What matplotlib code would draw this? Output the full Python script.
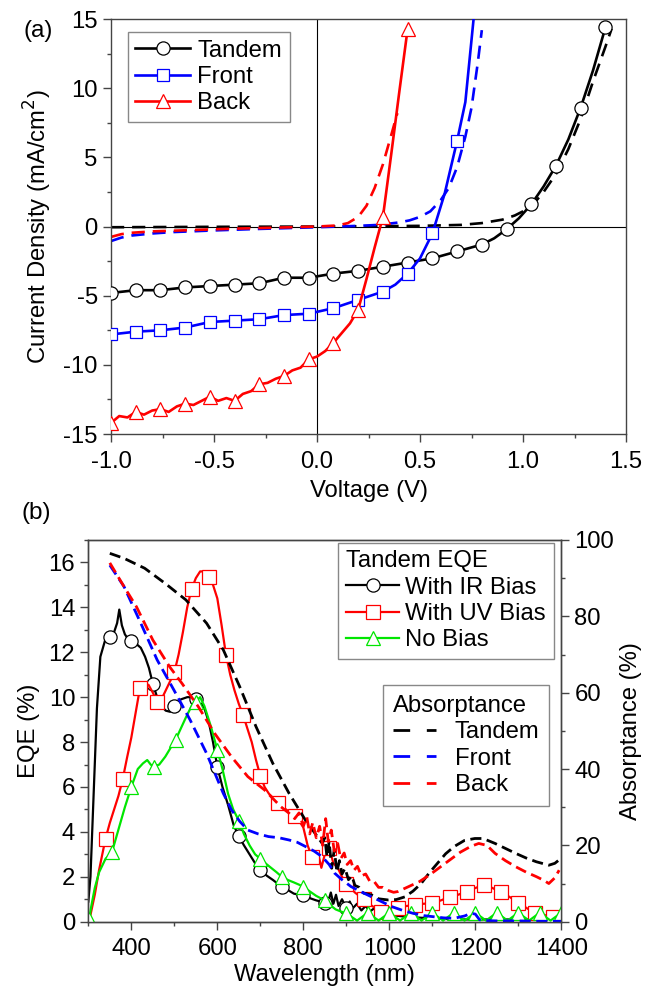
import numpy as np
import matplotlib
matplotlib.use("Agg")
import matplotlib.pyplot as plt
from matplotlib.lines import Line2D
from matplotlib.ticker import MultipleLocator

plt.rcParams["font.family"] = ["Liberation Sans", "DejaVu Sans"]
plt.rcParams["axes.unicode_minus"] = False
FS = 17.2

BLK, BLU, RED, GRN = "#000000", "#0000ff", "#ff0000", "#00e600"
SPINE = "#444444"

# ---- (a) J-V curves: solid = illuminated, dashed = dark ----
tandem_v = [-1.00, -0.94, -0.88, -0.82, -0.76, -0.70, -0.64, -0.58, -0.52, -0.46, -0.40,
            -0.34, -0.28, -0.22, -0.16, -0.10, -0.04, 0.02, 0.08, 0.14, 0.20, 0.26, 0.32,
            0.38, 0.44, 0.50, 0.56, 0.62, 0.68, 0.74, 0.80, 0.86, 0.92, 0.98, 1.04, 1.10,
            1.16, 1.22, 1.28, 1.34, 1.40]
tandem_j = [-4.8, -4.7, -4.6, -4.6, -4.6, -4.5, -4.4, -4.35, -4.3, -4.25, -4.2,
            -4.15, -4.1, -3.9, -3.7, -3.7, -3.7, -3.55, -3.4, -3.3, -3.2, -3.05, -2.9,
            -2.75, -2.6, -2.45, -2.3, -2.05, -1.8, -1.55, -1.3, -0.85, -0.2, 0.6, 1.6, 2.9,
            4.4, 6.3, 8.6, 11.3, 14.4]

front_v = [-1.00, -0.94, -0.88, -0.82, -0.76, -0.70, -0.64, -0.58, -0.52, -0.46, -0.40,
           -0.34, -0.28, -0.22, -0.16, -0.10, -0.04, 0.02, 0.08, 0.14, 0.20, 0.26, 0.32,
           0.38, 0.44, 0.50, 0.56, 0.62, 0.68, 0.72, 0.76]
front_j = [-7.8, -7.7, -7.6, -7.55, -7.5, -7.4, -7.3, -7.1, -6.9, -6.85, -6.8,
           -6.75, -6.7, -6.55, -6.4, -6.35, -6.3, -6.1, -5.9, -5.6, -5.3, -5.0, -4.7,
           -4.2, -3.4, -2.3, -0.5, 2.4, 6.2, 9.0, 15.0]

back_v = [-1.00, -0.96, -0.92, -0.88, -0.84, -0.80, -0.76, -0.72, -0.68, -0.64, -0.60,
          -0.56, -0.52, -0.48, -0.44, -0.40, -0.36, -0.32, -0.28, -0.24, -0.20, -0.16,
          -0.12, -0.08, -0.04, 0.00, 0.04, 0.08, 0.12, 0.16, 0.20, 0.24, 0.28, 0.32,
          0.36, 0.40, 0.44]
back_j = [-14.2, -13.7, -13.8, -13.4, -13.6, -13.3, -13.2, -13.4, -13.0, -12.8, -12.9,
          -12.6, -12.3, -12.6, -12.4, -12.6, -12.1, -11.9, -11.4, -11.3, -11.0, -10.8,
          -10.4, -10.2, -9.6, -9.4, -9.0, -8.4, -7.7, -7.0, -6.0, -3.8, -1.5, 0.7,
          5.2, 9.8, 14.3]

tandem_dark_v = [-1.0, -0.5, 0.0, 0.5, 0.7, 0.8, 0.9, 0.96, 1.0, 1.04, 1.10, 1.16,
                 1.22, 1.28, 1.34, 1.40, 1.43]
tandem_dark_j = [-0.05, -0.02, 0.0, 0.05, 0.12, 0.25, 0.5, 0.8, 1.1, 1.45, 2.5, 3.8,
                 5.6, 7.8, 10.5, 13.0, 14.3]
front_dark_v = [-1.0, -0.95, -0.9, -0.8, -0.7, -0.5, -0.3, 0.0, 0.2, 0.3, 0.4, 0.45,
                0.5, 0.55, 0.6, 0.64, 0.68, 0.72, 0.75, 0.78, 0.80]
front_dark_j = [-1.05, -0.8, -0.65, -0.5, -0.4, -0.28, -0.18, -0.05, 0.05, 0.12, 0.3,
                0.45, 0.7, 1.1, 1.9, 2.8, 4.3, 6.5, 8.6, 11.8, 14.2]
back_dark_v = [-1.0, -0.95, -0.9, -0.8, -0.6, -0.4, -0.2, 0.0, 0.1, 0.15, 0.2, 0.24,
               0.28, 0.32, 0.36, 0.39]
back_dark_j = [-0.75, -0.55, -0.45, -0.35, -0.25, -0.15, -0.08, 0.0, 0.08, 0.25, 0.7,
               1.5, 2.8, 4.5, 6.6, 8.2]

# ---- (b) EQE (left axis, %) ----
ir_wl = [300, 305, 312, 320, 328, 340, 350, 360, 367, 372, 378, 385, 392, 400, 410, 422,
         432, 441, 450, 460, 470, 480, 490, 500, 515, 530, 540, 550, 560, 570, 580, 590,
         600, 612, 625, 638, 650, 662, 675, 688, 700, 715, 730, 740, 750, 765, 778, 790,
         800, 815, 830, 840, 850, 858, 864, 870, 876, 882, 890, 900, 908, 915, 925, 935,
         945, 955, 965, 975, 990, 1000, 1050, 1100, 1150, 1200, 1250, 1300, 1350, 1400]
ir_eqe = [0.9, 2.0, 5.5, 9.5, 11.8, 12.6, 12.7, 12.9, 13.3, 13.9, 13.2, 12.8, 12.6, 12.5,
          12.4, 12.2, 11.8, 11.3, 10.6, 10.0, 9.6, 9.4, 9.35, 9.6, 9.9, 10.0, 10.0, 9.9,
          9.85, 9.5, 8.9, 8.0, 6.9, 6.0, 5.2, 4.3, 3.8, 3.4, 3.0, 2.6, 2.3, 2.05, 1.85,
          1.7, 1.56, 1.4, 1.25, 1.2, 1.19, 1.05, 0.95, 0.9, 0.85, 0.9, 1.3, 0.8, 1.2, 0.7,
          1.0, 0.6, 0.9, 0.6, 0.8, 0.5, 0.7, 0.45, 0.6, 0.4, 0.5, 0.3, 0.2, 0.15, 0.1,
          0.1, 0.1, 0.1, 0.1, 0.1]
ir_marks = [350, 400, 450, 500, 550, 600, 650, 700, 750, 800, 850, 900]

uv_wl = [305, 315, 325, 340, 350, 360, 370, 380, 390, 400, 410, 420, 430, 440, 450, 460,
         470, 480, 490, 500, 510, 520, 530, 540, 550, 560, 570, 580, 590, 600, 610, 620,
         630, 640, 650, 660, 670, 680, 690, 700, 710, 720, 730, 740, 750, 760, 770, 780,
         790, 800, 810, 820, 828, 835, 842, 850, 860, 870, 880, 890, 900, 920, 940, 960,
         980, 1000, 1020, 1040, 1060, 1080, 1100, 1120, 1140, 1160, 1180, 1200, 1220,
         1240, 1260, 1280, 1300, 1320, 1340, 1360, 1380, 1400]
uv_eqe = [0.3, 1.2, 2.3, 3.7, 4.4, 5.0, 5.6, 6.35, 7.3, 8.2, 9.3, 10.4, 10.6, 10.55, 10.2,
          9.8, 9.9, 10.3, 10.7, 11.1, 11.9, 12.9, 14.0, 14.8, 15.3, 15.6, 15.6, 15.35,
          15.0, 14.4, 13.2, 11.9, 11.0, 10.3, 9.7, 9.2, 8.6, 8.0, 7.2, 6.5, 6.0, 5.7, 5.5,
          5.3, 5.1, 5.0, 4.85, 4.7, 4.5, 4.2, 3.4, 2.9, 2.6, 3.0, 2.4, 3.0, 3.3, 2.6, 2.4,
          2.0, 1.7, 1.3, 1.0, 0.7, 0.45, 0.5, 0.6, 0.7, 0.75, 0.8, 0.82, 0.95, 1.1, 1.2,
          1.34, 1.5, 1.64, 1.5, 1.31, 1.1, 0.85, 0.6, 0.37, 0.3, 0.22, 0.2]
uv_marks = [340, 380, 420, 460, 500, 540, 580, 620, 660, 700, 740, 780, 820, 860, 900,
            940, 980, 1020, 1060, 1100, 1140, 1180, 1220, 1260, 1300, 1340, 1380]

nb_wl = [302, 306, 315, 325, 340, 355, 370, 385, 400, 415, 427, 437, 445, 452, 465, 479,
         490, 503, 515, 527, 540, 550, 560, 570, 585, 600, 612, 625, 637, 650, 662, 675,
         688, 700, 712, 725, 738, 750, 765, 778, 790, 800, 815, 830, 840, 850, 862, 875,
         888, 900, 925, 950, 975, 1000, 1025, 1050, 1075, 1100, 1125, 1150, 1175, 1200,
         1225, 1250, 1275, 1300, 1325, 1350, 1375, 1400]
nb_eqe = [0.1, 0.6, 1.5, 2.2, 2.8, 3.1, 4.1, 5.1, 6.0, 6.8, 7.05, 7.2, 7.0, 6.9, 7.0,
          7.35, 7.7, 8.1, 8.6, 9.1, 9.6, 9.8, 10.0, 9.6, 8.7, 7.65, 6.8, 5.7, 5.0, 4.5,
          3.9, 3.4, 3.0, 2.8, 2.6, 2.4, 2.2, 2.0, 1.85, 1.75, 1.65, 1.56, 1.35, 1.15,
          1.05, 0.95, 0.75, 0.55, 0.45, 0.37, 0.05, 0.4, 0.05, 0.4, 0.05, 0.4, 0.05, 0.4,
          0.05, 0.4, 0.05, 0.4, 0.05, 0.4, 0.05, 0.4, 0.05, 0.4, 0.05, 0.4]
nb_marks = [302, 355, 400, 452, 503, 550, 600, 650, 700, 750, 800, 850, 900, 950, 1000,
            1050, 1100, 1150, 1200, 1250, 1300, 1350, 1400]

# ---- (b) absorptance (right axis, %) ----
abs_tandem_wl = [350, 383, 431, 479, 527, 575, 614, 652, 690, 729, 767, 805, 825, 844,
                 850, 855, 860, 866, 872, 878, 884, 890, 897, 905, 913, 920, 930, 940,
                 959, 975, 997, 1016, 1036, 1055, 1074, 1093, 1112, 1131, 1151, 1175,
                 1199, 1218, 1246, 1270, 1294, 1318, 1342, 1371, 1385, 1395]
abs_tandem = [96.5, 95.2, 92.6, 88.6, 84.3, 78.2, 71.2, 61.6, 51.1, 41.5, 33.6, 26.6,
              23.5, 20.5, 22.0, 17.0, 21.0, 14.0, 19.0, 13.0, 16.0, 12.5, 14.0, 11.0,
              12.0, 9.5, 9.0, 7.5, 7.0, 6.0, 5.7, 5.8, 6.5, 8.0, 10.0, 12.8, 15.3, 17.8,
              19.7, 21.3, 21.8, 21.8, 20.5, 19.2, 17.9, 16.7, 15.7, 14.8, 15.3, 16.2]

abs_front_wl = [350, 383, 422, 460, 499, 537, 575, 614, 633, 652, 671, 695, 719, 743,
                767, 786, 805, 825, 844, 860, 873, 890, 911, 935, 959, 983, 1007, 1030,
                1055, 1080, 1103, 1127, 1151, 1175, 1190, 1200, 1210, 1218, 1250, 1300,
                1350, 1400]
abs_front = [93.4, 87.8, 78.2, 68.6, 60.7, 52.8, 44.1, 33.6, 29.3, 26.3, 24.0, 23.0,
             22.3, 22.0, 21.4, 20.8, 19.7, 18.5, 17.0, 15.0, 12.7, 11.0, 9.2, 7.8, 6.5,
             5.2, 3.9, 3.0, 2.2, 1.6, 1.3, 1.0, 0.9, 1.5, 2.2, 2.0, 0.5, 0.3, 0.2, 0.2,
             0.1, 0.1]

abs_back_wl = [350, 383, 412, 450, 489, 518, 556, 594, 633, 671, 710, 748, 767, 780, 790,
               800, 808, 815, 822, 830, 838, 845, 852, 858, 865, 872, 880, 887, 895, 902,
               910, 918, 926, 935, 945, 955, 965, 975, 985, 997, 1010, 1020, 1045, 1070,
               1093, 1117, 1141, 1165, 1189, 1208, 1227, 1246, 1270, 1294, 1318, 1342,
               1360, 1371, 1385, 1395]
abs_back = [94.0, 87.8, 82.5, 73.8, 66.8, 62.4, 56.3, 49.3, 43.2, 38.0, 34.5, 30.1, 28.4,
            27.0, 28.5, 25.0, 27.5, 23.0, 26.0, 22.0, 25.0, 20.0, 27.0, 21.0, 24.0, 18.5,
            20.5, 16.5, 18.0, 15.0, 16.0, 13.5, 14.5, 12.0, 12.5, 10.5, 10.5, 9.0, 9.0,
            8.2, 7.7, 7.9, 9.2, 10.5, 12.2, 14.2, 16.2, 18.2, 19.7, 20.5, 20.0, 17.9, 16.0,
            14.4, 13.0, 11.8, 10.8, 10.0, 11.5, 13.5]


def marks(xs, at):
    return [i for i, x in enumerate(xs) if x in at]


def style_axis(ax, fs=FS):
    for s in ax.spines.values():
        s.set_color(SPINE)
        s.set_linewidth(1.0)
    ax.tick_params(which="both", direction="out", width=1.0, color=SPINE, labelsize=fs)
    ax.tick_params(which="major", length=5.5)
    ax.tick_params(which="minor", length=3)


fig = plt.figure(figsize=(6.48, 9.93), dpi=100)

# ---------------- (a) ----------------
ax = fig.add_axes([0.1713, 0.5629, 0.7948, 0.4179])
ax.axhline(0, color="k", lw=0.8, zorder=1)
ax.axvline(0, color="k", lw=0.8, zorder=1)
dash_a = (5, 3)
ax.plot(tandem_dark_v, tandem_dark_j, color=BLK, lw=1.9, dashes=dash_a, zorder=2)
ax.plot(front_dark_v, front_dark_j, color=BLU, lw=1.9, dashes=dash_a, zorder=2)
ax.plot(back_dark_v, back_dark_j, color=RED, lw=1.9, dashes=dash_a, zorder=2)
ax.plot(tandem_v, tandem_j, color=BLK, lw=1.9, marker="o", ms=9.5, mfc="white",
        mew=0.9, markevery=slice(0, None, 2), zorder=3)
ax.plot(front_v, front_j, color=BLU, lw=1.9, marker="s", ms=9, mfc="white",
        mew=0.9, markevery=slice(0, 29, 2), zorder=3)
ax.plot(back_v, back_j, color=RED, lw=1.9, marker="^", ms=10, mfc="white",
        mew=0.9, markevery=3, zorder=4)
ax.set_xlim(-1.0, 1.5)
ax.set_ylim(-15, 15)
ax.xaxis.set_major_locator(MultipleLocator(0.5))
ax.xaxis.set_minor_locator(MultipleLocator(0.25))
ax.yaxis.set_major_locator(MultipleLocator(5))
ax.yaxis.set_minor_locator(MultipleLocator(2.5))
ax.xaxis.set_major_formatter(matplotlib.ticker.FormatStrFormatter("%.1f"))
style_axis(ax)
ax.tick_params(axis="x", pad=7)
ax.tick_params(axis="y", pad=4)
ax.set_xlabel("Voltage (V)", fontsize=FS, labelpad=5)
ax.set_ylabel("Current Density (mA/cm$^2$)", fontsize=FS, labelpad=7)

h_a = [Line2D([], [], color=BLK, lw=1.9, marker="o", ms=9.5, mfc="white", mew=0.9),
       Line2D([], [], color=BLU, lw=1.9, marker="s", ms=9, mfc="white", mew=0.9),
       Line2D([], [], color=RED, lw=1.9, marker="^", ms=10, mfc="white", mew=0.9)]
leg = ax.legend(h_a, ["Tandem", "Front", "Back"], loc="upper left",
                bbox_to_anchor=(0.0324, 0.969), borderaxespad=0, fontsize=FS,
                handlelength=2.3, handletextpad=0.3, labelspacing=0.18, borderpad=0.32,
                fancybox=False, framealpha=1, edgecolor="#888888")
leg.get_frame().set_linewidth(1.0)

# ---------------- (b) ----------------
bx = fig.add_axes([0.1363, 0.0718, 0.7299, 0.3844])
bx2 = bx.twinx()
bx.plot(ir_wl, ir_eqe, color=BLK, lw=1.6, marker="o", ms=9.5, mfc="white", mew=0.9,
        markevery=marks(ir_wl, ir_marks), zorder=3)
bx.plot(uv_wl, uv_eqe, color=RED, lw=1.6, marker="s", ms=10, mfc="white", mew=0.9,
        markevery=marks(uv_wl, uv_marks), zorder=3)
bx.plot(nb_wl, nb_eqe, color=GRN, lw=1.6, marker="^", ms=10, mfc="white", mew=0.9,
        markevery=marks(nb_wl, nb_marks), zorder=4)
dash_b = (4, 2)
bx2.plot(abs_tandem_wl, abs_tandem, color=BLK, lw=2.0, dashes=dash_b)
bx2.plot(abs_front_wl, abs_front, color=BLU, lw=2.0, dashes=dash_b)
bx2.plot(abs_back_wl, abs_back, color=RED, lw=2.0, dashes=dash_b)

bx.set_xlim(300, 1400)
bx.set_ylim(0, 17)
bx2.set_ylim(0, 100)
bx.xaxis.set_major_locator(MultipleLocator(200))
bx.xaxis.set_minor_locator(MultipleLocator(100))
bx.yaxis.set_major_locator(MultipleLocator(2))
bx.yaxis.set_minor_locator(MultipleLocator(1))
bx2.yaxis.set_major_locator(MultipleLocator(20))
bx2.yaxis.set_minor_locator(MultipleLocator(10))
style_axis(bx)
style_axis(bx2)
bx.tick_params(axis="x", pad=6)
bx.tick_params(axis="y", pad=4)
bx2.tick_params(axis="y", pad=4)
bx.set_xlabel("Wavelength (nm)", fontsize=FS, labelpad=3)
bx.set_ylabel("EQE (%)", fontsize=FS, labelpad=6)
bx2.set_ylabel("Absorptance (%)", fontsize=FS, labelpad=4)

h_eqe = [Line2D([], [], color=BLK, lw=1.6, marker="o", ms=9.5, mfc="white", mew=0.9),
         Line2D([], [], color=RED, lw=1.6, marker="s", ms=10, mfc="white", mew=0.9),
         Line2D([], [], color=GRN, lw=1.6, marker="^", ms=10, mfc="white", mew=0.9)]
leg1 = bx2.legend(h_eqe, ["With IR Bias", "With UV Bias", "No Bias"],
                  title="Tandem EQE", title_fontsize=FS, alignment="left",
                  loc="upper right", bbox_to_anchor=(0.984, 0.993), borderaxespad=0,
                  fontsize=FS, handlelength=2.25, handletextpad=0.25, labelspacing=0.18,
                  borderpad=0.32, fancybox=False, framealpha=1, edgecolor="#888888")
leg1.get_frame().set_linewidth(1.0)
bx2.add_artist(leg1)

h_abs = [Line2D([], [], color=c, lw=2.0, dashes=(6, 6)) for c in (BLK, BLU, RED)]
leg2 = bx2.legend(h_abs, ["Tandem", "Front", "Back"], title="Absorptance",
                  title_fontsize=FS, alignment="left", loc="upper right",
                  bbox_to_anchor=(0.975, 0.620), borderaxespad=0, fontsize=FS,
                  handlelength=1.8, handletextpad=0.8, labelspacing=0.18,
                  borderpad=0.42, fancybox=False, framealpha=1, edgecolor="#888888")
leg2.get_frame().set_linewidth(1.0)

fig.text(38 / 648, 1 - 31 / 993, "(a)", fontsize=17.5, ha="center", va="center")
fig.text(36 / 648, 1 - 513 / 993, "(b)", fontsize=17.5, ha="center", va="center")

fig.savefig("out.png", dpi=100)
